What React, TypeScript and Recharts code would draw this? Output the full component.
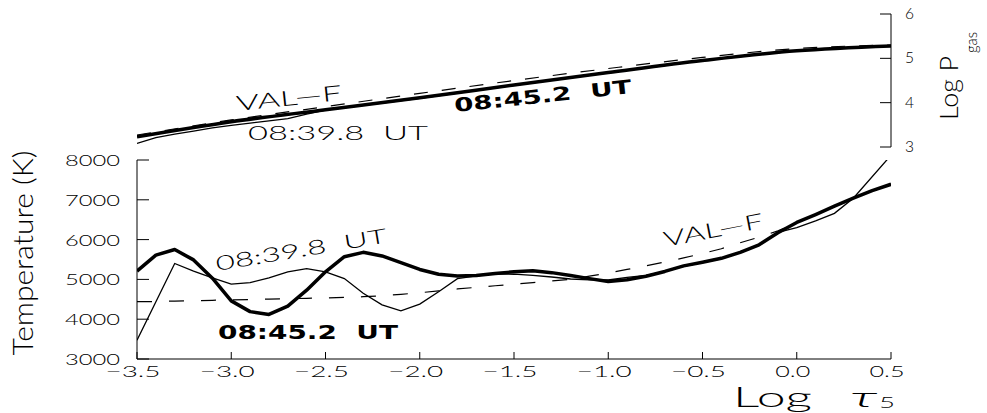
import React from "react";
import { LineChart, Line, XAxis, YAxis } from "recharts";

// ---------- data: lower panel (temperature vs log tau5) ----------
const logTau = [
  -3.5, -3.4, -3.3, -3.2, -3.1, -3.0, -2.9, -2.8, -2.7, -2.6, -2.5, -2.4, -2.3, -2.2,
  -2.1, -2.0, -1.9, -1.8, -1.7, -1.6, -1.5, -1.4, -1.3, -1.2, -1.1, -1.0, -0.9, -0.8,
  -0.7, -0.6, -0.5, -0.4, -0.3, -0.2, -0.1, 0.0, 0.1, 0.2, 0.3, 0.4, 0.5,
];
const temp0845 = [
  5210, 5610, 5750, 5490, 5030, 4460, 4190, 4120, 4330, 4730, 5190, 5570, 5680, 5590,
  5420, 5250, 5130, 5085, 5100, 5150, 5190, 5215, 5170, 5100, 5020, 4945, 4990, 5080,
  5200, 5340, 5430, 5530, 5680, 5870, 6170, 6430, 6630, 6840, 7040, 7230, 7390,
];
const temp0839 = [
  3470, null, 5400, 5210, 5040, 4880, 4920, 5040, 5190, 5270, 5190, 5020, 4650, 4360,
  4210, 4380, 4690, 5020, 5090, 5140, 5130, 5100, 5060, 5010, 4990, 4985, 5050, 5100,
  5200, 5330, 5420, 5520, 5670, 5860, 6180, 6300, 6470, 6660, 7040, null, 8120,
];
const tempValF = [
  4440, 4445, 4455, 4465, 4475, 4485, 4495, 4505, 4515, 4525, 4535, 4550, 4565, 4590,
  4625, 4665, 4710, 4760, 4800, 4840, 4880, 4920, 4960, 5000, 5080, 5160, 5250, 5340,
  5440, 5540, 5650, 5770, 5920, 6060, 6220, 6420, 6620, 6830, 7040, 7230, 7400,
];
const tempTicks = [3000, 4000, 5000, 6000, 7000, 8000];
const tauTicks = [-3.5, -3.0, -2.5, -2.0, -1.5, -1.0, -0.5, 0.0, 0.5];

// ---------- data: upper panel (log Pgas vs log tau5) ----------
const pTau = [-3.5, -3.0, -2.5, -2.0, -1.5, -1.0, -0.5, 0.0, 0.5];
const p0845 = [3.23, 3.57, 3.84, 4.11, 4.4, 4.68, 4.95, 5.17, 5.28];
const pValF = [3.27, 3.61, 3.91, 4.21, 4.5, 4.77, 5.02, 5.22, 5.3];
const p0839Tau = [-3.5, -3.4, -3.3, -3.2, -3.1, -3.0, -2.9, -2.8, -2.7, -2.6, -2.5, -2.0, -1.5, -1.0, -0.5, 0.0, 0.5];
const p0839 = [3.08, 3.21, 3.29, 3.36, 3.43, 3.49, 3.54, 3.59, 3.64, 3.74, 3.83, 4.1, 4.39, 4.67, 4.95, 5.17, 5.28];
const pTicks = [3, 4, 5, 6];

const lowerRows = logTau.map((x, i) => ({ x, a: temp0845[i], b: temp0839[i], c: tempValF[i] }));
const upperThick = pTau.map((x, i) => ({ x, p: p0845[i] }));
const upperValF = pTau.map((x, i) => ({ x, p: pValF[i] }));
const upperThin = p0839Tau.map((x, i) => ({ x, p: p0839[i] }));

const THIN = "Lato, 'DejaVu Sans', sans-serif";
const THIN_W = 300;
const BOLD = "'DejaVu Sans', sans-serif";
const INK = "#000";

const fmtTau = (v: number) => {
  const s = Math.abs(v).toFixed(1);
  return v < 0 ? "\u2212" + s : s;
};

function LeftTick(props: any) {
  const { x, y, payload } = props;
  const axisX = x + 17;
  const w = 55;
  return (
    <g>
      <line x1={axisX} y1={y} x2={axisX + 12} y2={y} stroke={INK} strokeWidth={1} />
      <text x={x - w} y={y + 6} fontFamily={THIN} fontWeight={THIN_W} fontSize={15} fill={INK}
        textLength={w} lengthAdjust="spacingAndGlyphs">{String(payload.value)}</text>
    </g>
  );
}

function BottomTick(props: any) {
  const { x, y, payload } = props;
  const axisY = y - 11;
  const label = fmtTau(payload.value);
  const w = label.length >= 4 ? 55 : 35;
  return (
    <g>
      <line x1={x} y1={axisY} x2={x} y2={axisY - 7} stroke={INK} strokeWidth={1} />
      <text x={x - 4 - w / 2} y={axisY + 18} fontFamily={THIN} fontWeight={THIN_W} fontSize={15} fill={INK}
        textLength={w} lengthAdjust="spacingAndGlyphs">{label}</text>
    </g>
  );
}

function RightTick(props: any) {
  const { x, y, payload } = props;
  const axisX = x - 14;
  return (
    <g>
      <line x1={axisX - 11} y1={y} x2={axisX} y2={y} stroke={INK} strokeWidth={1} />
      <text x={x} y={y + 5} fontFamily={THIN} fontWeight={THIN_W} fontSize={15} fill={INK}
        textLength={9} lengthAdjust="spacingAndGlyphs">{String(payload.value)}</text>
    </g>
  );
}

function Rot({ x, y, angle, children }: any) {
  return <g transform={`translate(${x},${y}) rotate(${angle})`}>{children}</g>;
}

export default function App() {
  return (
    <div style={{ position: "absolute", left: 0, top: 0, width: 987, height: 413, background: "#fff" }}>
      {/* lower panel */}
      <div style={{ position: "absolute", left: 0, top: 0 }}>
        <LineChart width={987} height={413} data={lowerRows}
          margin={{ top: 160, right: 96, bottom: 24, left: 57 }}>
          <XAxis type="number" dataKey="x" domain={[-3.5, 0.5]} ticks={tauTicks} interval={0}
            allowDataOverflow height={30} tickSize={0} tickMargin={11}
            axisLine={{ stroke: INK, strokeWidth: 1 }} tickLine={false} tick={<BottomTick />} />
          <YAxis type="number" domain={[3000, 8000]} ticks={tempTicks} interval={0}
            allowDataOverflow width={80} tickSize={0} tickMargin={17}
            axisLine={{ stroke: INK, strokeWidth: 1 }} tickLine={false} tick={<LeftTick />} />
          <Line dataKey="c" type="linear" stroke={INK} strokeWidth={1.2} strokeDasharray="15 17"
            dot={false} activeDot={false} isAnimationActive={false} />
          <Line dataKey="b" type="linear" stroke={INK} strokeWidth={1.3} connectNulls
            dot={false} activeDot={false} isAnimationActive={false} />
          <Line dataKey="a" type="linear" stroke={INK} strokeWidth={3.5} strokeLinejoin="round"
            dot={false} activeDot={false} isAnimationActive={false} />
        </LineChart>
      </div>
      {/* upper panel */}
      <div style={{ position: "absolute", left: 0, top: 0 }}>
        <LineChart width={987} height={160} margin={{ top: 14, right: 56, bottom: 13, left: 137 }}>
          <XAxis type="number" dataKey="x" domain={[-3.5, 0.5]} allowDataOverflow hide />
          <YAxis yAxisId="p" orientation="right" type="number" domain={[3, 6]} ticks={pTicks}
            interval={0} allowDataOverflow width={40} tickSize={0} tickMargin={14}
            axisLine={{ stroke: INK, strokeWidth: 1 }} tickLine={false} tick={<RightTick />} />
          <Line yAxisId="p" data={upperValF} dataKey="p" type="monotone" stroke={INK} strokeWidth={1.2}
            strokeDasharray="14 14" dot={false} activeDot={false} isAnimationActive={false} />
          <Line yAxisId="p" data={upperThin} dataKey="p" type="linear" stroke={INK} strokeWidth={1.3}
            dot={false} activeDot={false} isAnimationActive={false} />
          <Line yAxisId="p" data={upperThick} dataKey="p" type="monotone" stroke={INK} strokeWidth={3.5}
            dot={false} activeDot={false} isAnimationActive={false} />
        </LineChart>
      </div>
      {/* titles and annotations */}
      <svg width={987} height={413} style={{ position: "absolute", left: 0, top: 0, pointerEvents: "none" }}>
        <Rot x={33} y={253} angle={-90}>
          <text x={0} y={0} textAnchor="middle" fontFamily={THIN} fontWeight={THIN_W} fontSize={27} fill={INK}
            textLength={205} lengthAdjust="spacingAndGlyphs">Temperature (K)</text>
        </Rot>
        <Rot x={958} y={120} angle={-90}>
          <text x={0} y={0} fontFamily={THIN} fontWeight={THIN_W} fontSize={25} fill={INK}
            textLength={64} lengthAdjust="spacingAndGlyphs">Log P</text>
          <text x={67} y={19} fontFamily={THIN} fontWeight={THIN_W} fontSize={15} fill={INK}
            textLength={21} lengthAdjust="spacingAndGlyphs">gas</text>
        </Rot>
        <text x={733} y={407} fontFamily={THIN} fontWeight={THIN_W} fontSize={28} fill={INK}
          textLength={79} lengthAdjust="spacingAndGlyphs">Log</text>
        <text x={850} y={407} fontFamily={THIN} fontWeight={THIN_W} fontSize={28} fontStyle="italic" fill={INK}
          textLength={27} lengthAdjust="spacingAndGlyphs">τ</text>
        <text x={879} y={408} fontFamily={THIN} fontWeight={THIN_W} fontSize={16} fill={INK}
          textLength={16} lengthAdjust="spacingAndGlyphs">5</text>

        {/* upper panel labels */}
        <Rot x={237} y={111} angle={-6}>
          <text x={0} y={0} fontFamily={THIN} fontWeight={THIN_W} fontSize={21} fill={INK}
            textLength={106} lengthAdjust="spacingAndGlyphs">VAL{"\u2014"}F</text>
        </Rot>
        <text x={248} y={140} fontFamily={THIN} fontWeight={THIN_W} fontSize={19} fill={INK}
          textLength={180} lengthAdjust="spacingAndGlyphs">08:39.8{"\u00a0\u00a0"}UT</text>
        <Rot x={455} y={112} angle={-6.1}>
          <text x={0} y={0} fontFamily={BOLD} fontWeight="bold" fontSize={19} fill={INK}
            textLength={178} lengthAdjust="spacingAndGlyphs">08:45.2{"\u00a0\u00a0"}UT</text>
        </Rot>

        {/* lower panel labels */}
        <Rot x={217} y={271} angle={-9.5}>
          <text x={0} y={0} fontFamily={THIN} fontWeight={THIN_W} fontSize={20} fill={INK}
            textLength={173} lengthAdjust="spacingAndGlyphs">08:39.8{"\u00a0\u00a0"}UT</text>
        </Rot>
        <text x={218} y={338.5} fontFamily={BOLD} fontWeight="bold" fontSize={19} fill={INK}
          textLength={180} lengthAdjust="spacingAndGlyphs">08:45.2{"\u00a0\u00a0"}UT</text>
        <Rot x={665} y={247} angle={-11}>
          <text x={0} y={0} fontFamily={THIN} fontWeight={THIN_W} fontSize={21} fill={INK}
            textLength={101} lengthAdjust="spacingAndGlyphs">VAL{"\u2014"}F</text>
        </Rot>
      </svg>
    </div>
  );
}
